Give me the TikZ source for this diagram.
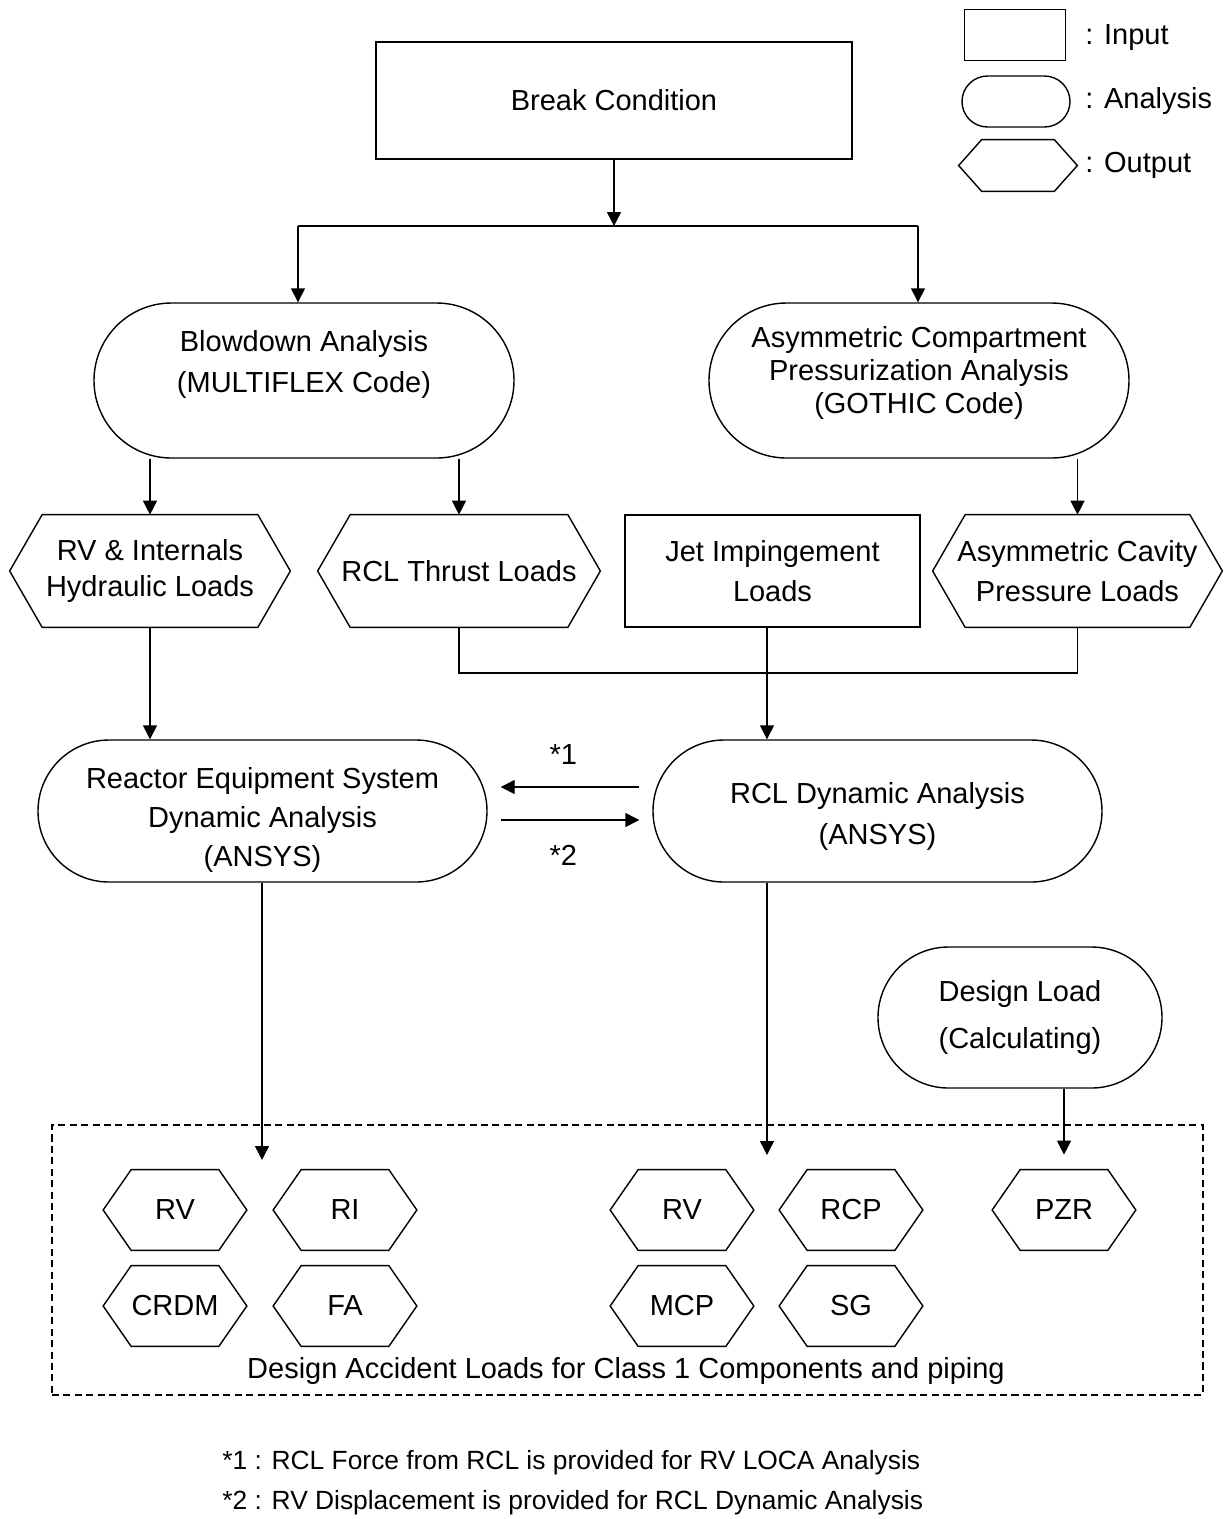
\documentclass[tikz,border=0pt]{standalone}
\usepackage{fontspec}
\setmainfont{Liberation Sans}
\usetikzlibrary{arrows.meta, positioning, shapes.misc, calc}

\begin{document}
\begin{tikzpicture}[
    every node/.style={font=\fontsize{16.5}{22.5}\selectfont},
    inp/.style={draw, line width=0.8pt, align=center, inner sep=0pt},
    anl/.style={draw, rounded rectangle, line width=0.8pt, align=center, inner sep=0pt},
    outp/.style={align=center, inner sep=0pt, append after command={\pgfextra{%
        \draw[line width=0.8pt] (\tikzlastnode.west) -- ([xshift=#1]\tikzlastnode.north west)
          -- ([xshift=-#1]\tikzlastnode.north east) -- (\tikzlastnode.east)
          -- ([xshift=-#1]\tikzlastnode.south east) -- ([xshift=#1]\tikzlastnode.south west) -- cycle;}}},
    sm/.style={outp=0.56cm, minimum width=2.86cm, minimum height=1.6cm},
    grp/.style={draw, dash pattern=on 4pt off 2.5pt, line width=0.8pt, inner sep=0pt},
    txt/.style={anchor=west, inner sep=0pt},
    a/.style={-{Triangle[length=0.28cm, width=0.28cm]}, line width=0.8pt},
    ln/.style={line width=0.8pt}
]
\useasboundingbox (0,0) rectangle (24.54,-30.38);
% legend
\node[inp, minimum width=2.02cm, minimum height=1.02cm] (keyin) at (20.3,-0.7) {};
\node[anl, minimum width=2.16cm, minimum height=1.02cm] (keyan) at (20.32,-2.03) {};
\node[outp=0.46cm, minimum width=2.36cm, minimum height=1.02cm] (keyout) at (20.36,-3.31) {};
\node[txt] (keyintxt) at (21.7,-0.76) {: Input};
\node[txt] (keyantxt) at (21.7,-2.02) {: Analysis};
\node[txt] (keyouttxt) at (21.7,-3.3) {: Output};

% top part
\node[inp, minimum width=9.52cm, minimum height=2.34cm] (brk) at (12.28,-2.01) {Break Condition};
\coordinate (split) at (12.28,-4.52);
\coordinate (splitl) at (5.96,-4.52);
\coordinate (splitr) at (18.36,-4.52);
\node[anl, minimum width=8.4cm, minimum height=3.1cm] (blow) at (6.08,-7.61) {};
\node[align=center] (blowtxt) at (6.08,-7.29) {Blowdown Analysis\\[1pt](MULTIFLEX Code)};
\node[anl, minimum width=8.4cm, minimum height=3.1cm] (asym) at (18.38,-7.61) {};
\node[align=center, font=\fontsize{16.5}{19}\selectfont] (asymtxt) at (18.38,-7.46)
  {Asymmetric Compartment\\Pressurization Analysis\\(GOTHIC Code)};
\draw[a] (brk) -- (split);
\draw[ln] (splitl) -- (splitr);
\draw[a] (splitl) -- (splitl |- blow.north);
\draw[a] (splitr) -- (splitr |- asym.north);

% loads
\node[outp=0.65cm, minimum width=5.6cm, minimum height=2.24cm, font=\fontsize{16.5}{20.4}\selectfont] (rvi) at (3.0,-11.42) {RV \& Internals\\Hydraulic Loads};
\node[outp=0.65cm, minimum width=5.64cm, minimum height=2.24cm] (thrust) at (9.18,-11.42) {RCL Thrust Loads};
\node[inp, minimum width=5.9cm, minimum height=2.24cm] (jet) at (15.45,-11.42) {Jet Impingement\\Loads};
\node[outp=0.65cm, minimum width=5.78cm, minimum height=2.24cm] (cav) at (21.55,-11.42) {Asymmetric Cavity\\Pressure Loads};
\draw[a] (blow.south -| rvi) -- (rvi);
\draw[a] (blow.south -| thrust) -- (thrust);
\draw[a] (asym.south -| cav) -- (cav);
\coordinate (mrg) at (15.34,-13.46);

% dynamic analyses
\node[anl, minimum width=8.98cm, minimum height=2.84cm] (reac) at (5.25,-16.22) {};
\node[align=center, font=\fontsize{16.5}{22.4}\selectfont] (reactxt) at (5.25,-16.4) {Reactor Equipment System\\Dynamic Analysis\\(ANSYS)};
\node[anl, minimum width=8.98cm, minimum height=2.84cm] (rcl) at (17.55,-16.22) {};
\node[align=center, font=\fontsize{16.5}{23.2}\selectfont] (rcltxt) at (17.55,-16.33) {RCL Dynamic Analysis\\(ANSYS)};
\draw[ln] (thrust.south) |- (mrg) -| (cav.south);
\draw[a] (jet.south -| mrg) -- (mrg |- rcl.north);
\draw[a] (rvi) -- (rvi |- reac.north);
\draw[a, shorten <=0.26cm, shorten >=0.26cm] ([yshift=0.48cm]rcl.west) -- node[pos=0.54, yshift=0.64cm] (fwd) {*1} ([yshift=0.48cm]reac.east);
\draw[a, shorten <=0.26cm, shorten >=0.26cm] ([yshift=-0.18cm]reac.east) -- node[pos=0.46, yshift=-0.7cm] (bwd) {*2} ([yshift=-0.18cm]rcl.west);
\node[anl, minimum width=5.68cm, minimum height=2.82cm, font=\fontsize{16.5}{27}\selectfont] (design) at (20.4,-20.35) {Design Load\\(Calculating)};

% design accident loads
\node[grp, minimum width=23.02cm, minimum height=5.4cm] (acc) at (12.55,-25.2) {};
\node (acctxt) at (12.52,-27.42) {Design Accident Loads for Class 1 Components and piping};
\node[sm] (rva) at (3.5,-24.2) {RV};
\node[sm] (ri) at (6.9,-24.2) {RI};
\node[sm] (crdm) at (3.5,-26.12) {CRDM};
\node[sm] (fa) at (6.9,-26.12) {FA};
\node[sm] (rvb) at (13.64,-24.2) {RV};
\node[sm] (rcp) at (17.02,-24.2) {RCP};
\node[sm] (mcp) at (13.64,-26.12) {MCP};
\node[sm] (sg) at (17.02,-26.12) {SG};
\node[sm] (pzr) at (21.28,-24.2) {PZR};
\coordinate (hitl) at (5.24,-23.2);
\coordinate (hitm) at (15.34,-23.1);
\draw[a] (reac.south -| hitl) -- (hitl);
\draw[a] (rcl.south -| hitm) -- (hitm);
\draw[a] (design.south -| pzr) -- ([yshift=0.3cm]pzr.north);

% notes
\node[txt, font=\fontsize{15}{18}\selectfont] (note1) at (4.44,-29.26) {*1 : RCL Force from RCL is provided for RV LOCA Analysis};
\node[txt, font=\fontsize{15}{18}\selectfont] (note2) at (4.44,-30.06) {*2 : RV Displacement is provided for RCL Dynamic Analysis};
\end{tikzpicture}
\end{document}
